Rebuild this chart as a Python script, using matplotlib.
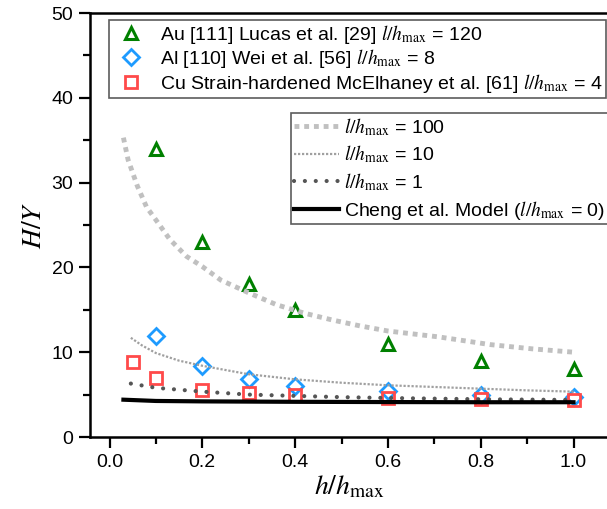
import matplotlib
matplotlib.use("Agg")
import matplotlib.pyplot as plt

plt.rcParams["font.family"] = ["Liberation Sans", "DejaVu Sans"]
plt.rcParams["mathtext.fontset"] = "stix"

# experimental data
x_exp = [0.1, 0.2, 0.3, 0.4, 0.6, 0.8, 1.0]
au_hy = [34.0, 23.0, 18.0, 15.0, 11.0, 9.0, 8.0]
al_hy = [11.9, 8.4, 6.8, 6.0, 5.4, 5.0, 4.7]
x_cu = [0.05, 0.1, 0.2, 0.3, 0.4, 0.6, 0.8, 1.0]
cu_hy = [8.9, 7.0, 5.6, 5.2, 4.9, 4.6, 4.5, 4.4]

# model curves
x_l100 = [0.03, 0.04, 0.06, 0.08, 0.1, 0.13, 0.166, 0.2, 0.24, 0.3, 0.36,
          0.42, 0.48, 0.54, 0.6, 0.71, 0.82, 0.91, 1.0]
y_l100 = [35.3, 32.7, 29.6, 27.1, 25.6, 23.3, 21.3, 20.1, 18.5, 17.0, 15.6,
          14.6, 13.8, 13.1, 12.5, 11.8, 10.9, 10.4, 10.0]
x_l10 = [0.046, 0.07, 0.1, 0.15, 0.2, 0.3, 0.4, 0.5, 0.6, 0.7, 0.8, 0.9, 1.0]
y_l10 = [11.7, 10.8, 9.9, 9.0, 8.4, 7.4, 6.8, 6.4, 6.1, 5.9, 5.7, 5.5, 5.35]
x_l1 = [0.046, 0.1, 0.2, 0.3, 0.4, 0.5, 0.6, 0.8, 1.0]
y_l1 = [6.3, 5.8, 5.35, 5.0, 4.85, 4.7, 4.6, 4.45, 4.37]
x_cheng = [0.03, 0.1, 0.2, 0.4, 0.6, 0.8, 1.0]
y_cheng = [4.4, 4.25, 4.2, 4.15, 4.12, 4.1, 4.1]

W, H = 607, 509
fig = plt.figure(figsize=(W / 100, H / 100), dpi=100)

# axes runs slightly past the right edge of the picture
left_px, right_px = 90, 609
zero_px, px_per_unit = 109.5, 464.0
x0 = (left_px - zero_px) / px_per_unit
x1 = (right_px - zero_px) / px_per_unit
ax = fig.add_axes([left_px / W, 72 / H, (right_px - left_px) / W, 424 / H])
ax.set_xlim(x0, x1)
ax.set_ylim(0, 50)

mh = []
mh.append(ax.plot(x_exp, au_hy, "^", ms=9, mfc="none", mec="#008000", mew=2.2,
                  label=r"Au [111] Lucas et al. [29] $l/h_{\rm max}$ = 120")[0])
mh.append(ax.plot(x_exp, al_hy, "D", ms=8.5, mfc="none", mec="#1e9bff", mew=2,
                  label=r"Al [110] Wei et al. [56] $l/h_{\rm max}$ = 8")[0])
mh.append(ax.plot(x_cu, cu_hy, "s", ms=8, mfc="none", mec="#ff4a4a", mew=2,
                  label=r"Cu Strain-hardened McElhaney et al. [61] $l/h_{\rm max}$ = 4")[0])

lh = []
lh.append(ax.plot(x_l100, y_l100, color="#c0c0c0", lw=3.5, ls=(0, (1, 1)),
                  label=r"$l/h_{\rm max}$ = 100")[0])
lh.append(ax.plot(x_l10, y_l10, color="#a0a0a0", lw=1.6, ls=(0, (1, 0.8)),
                  label=r"$l/h_{\rm max}$ = 10")[0])
lh.append(ax.plot(x_l1, y_l1, color="#555555", lw=3, ls=(0, (0.01, 2.6)),
                  dash_capstyle="round", label=r"$l/h_{\rm max}$ = 1")[0])
lh.append(ax.plot(x_cheng, y_cheng, color="black", lw=3,
                  label=r"Cheng et al. Model ($l/h_{\rm max}$ = 0)")[0])

ax.set_xticks([0.0, 0.2, 0.4, 0.6, 0.8, 1.0])
ax.set_xticklabels(["0.0", "0.2", "0.4", "0.6", "0.8", "1.0"])
ax.set_xticks([0.1, 0.3, 0.5, 0.7, 0.9], minor=True)
ax.set_yticks([0, 10, 20, 30, 40, 50])
ax.set_yticks([5, 15, 25, 35, 45], minor=True)
ax.tick_params(axis="both", which="major", direction="out", length=8, width=1.6,
               labelsize=14, pad=4)
ax.tick_params(axis="both", which="minor", direction="out", length=5, width=1.6)
for s in ["left", "bottom", "top"]:
    ax.spines[s].set_linewidth(1.8)
ax.spines["right"].set_visible(False)

ax.set_xlabel(r"$h/h_{\rm max}$", fontsize=20, labelpad=2)
ax.set_ylabel(r"$H/Y$", fontsize=20, labelpad=3)

leg1 = fig.legend(handles=mh, loc="upper left",
                  bbox_to_anchor=(109 / W, 1 - 20 / H), borderaxespad=0,
                  fontsize=14, frameon=True, fancybox=False, handlelength=2.0,
                  handletextpad=0.5, labelspacing=0.08, borderpad=0.14)
leg1.get_frame().set_edgecolor("#333333")
leg1.get_frame().set_linewidth(1.2)

leg2 = fig.legend(handles=lh, loc="upper left",
                  bbox_to_anchor=(291 / W, 1 - 113 / H), borderaxespad=0,
                  fontsize=14, frameon=True, fancybox=False, handlelength=2.3,
                  handletextpad=0.3, labelspacing=0.3, borderpad=0.15)
leg2.get_frame().set_edgecolor("#333333")
leg2.get_frame().set_linewidth(1.2)

fig.savefig("out.png", dpi=100)
